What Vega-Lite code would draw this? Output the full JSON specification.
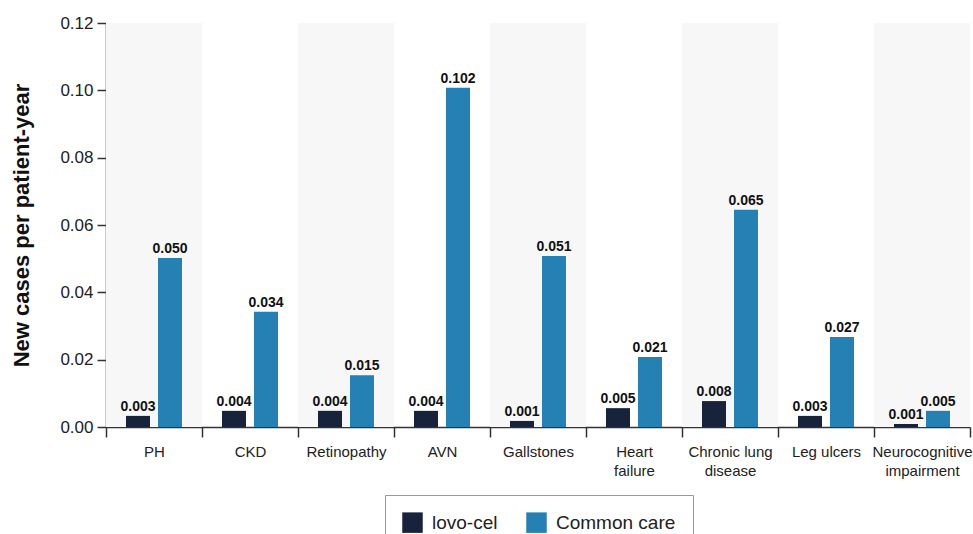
{
  "$schema": "https://vega.github.io/schema/vega-lite/v6.json",
  "width": 864,
  "height": 404,
  "autosize": {"type": "none"},
  "padding": {"left": 106, "top": 23, "right": 3, "bottom": 107},
  "background": "white",
  "config": {
    "view": {"stroke": null},
    "font": "Liberation Sans",
    "axis": {"domainColor": "#333", "tickColor": "#333", "labelColor": "#222", "titleColor": "#111", "grid": false}
  },
  "data": {
    "values": [
      {"category": "PH", "series": "lovo-cel", "value": 0.0033, "label": "0.003"},
      {"category": "PH", "series": "Common care", "value": 0.0502, "label": "0.050"},
      {"category": "CKD", "series": "lovo-cel", "value": 0.0048, "label": "0.004"},
      {"category": "CKD", "series": "Common care", "value": 0.0342, "label": "0.034"},
      {"category": "Retinopathy", "series": "lovo-cel", "value": 0.0048, "label": "0.004"},
      {"category": "Retinopathy", "series": "Common care", "value": 0.0154, "label": "0.015"},
      {"category": "AVN", "series": "lovo-cel", "value": 0.0048, "label": "0.004"},
      {"category": "AVN", "series": "Common care", "value": 0.1008, "label": "0.102"},
      {"category": "Gallstones", "series": "lovo-cel", "value": 0.0018, "label": "0.001"},
      {"category": "Gallstones", "series": "Common care", "value": 0.0508, "label": "0.051"},
      {"category": "Heart failure", "series": "lovo-cel", "value": 0.0056, "label": "0.005"},
      {"category": "Heart failure", "series": "Common care", "value": 0.0208, "label": "0.021"},
      {"category": "Chronic lung disease", "series": "lovo-cel", "value": 0.0077, "label": "0.008"},
      {"category": "Chronic lung disease", "series": "Common care", "value": 0.0645, "label": "0.065"},
      {"category": "Leg ulcers", "series": "lovo-cel", "value": 0.0033, "label": "0.003"},
      {"category": "Leg ulcers", "series": "Common care", "value": 0.0267, "label": "0.027"},
      {"category": "Neurocognitive impairment", "series": "lovo-cel", "value": 0.0009, "label": "0.001"},
      {"category": "Neurocognitive impairment", "series": "Common care", "value": 0.0048, "label": "0.005"}
    ]
  },
  "encoding": {
    "x": {
      "field": "category",
      "type": "nominal",
      "scale": {
        "domain": ["PH", "CKD", "Retinopathy", "AVN", "Gallstones", "Heart failure", "Chronic lung disease", "Leg ulcers", "Neurocognitive impairment"],
        "paddingInner": 0,
        "paddingOuter": 0
      },
      "axis": {
        "title": null,
        "labelAngle": 0,
        "labelFontSize": 15,
        "labelPadding": 7,
        "tickBand": "extent",
        "tickSize": 10,
        "domainWidth": 1.5,
        "tickWidth": 1.5,
        "labelLineHeight": 19,
        "labelExpr": "datum.value == 'Heart failure' ? ['Heart', 'failure'] : datum.value == 'Chronic lung disease' ? ['Chronic lung', 'disease'] : datum.value == 'Neurocognitive impairment' ? ['Neurocognitive', 'impairment'] : datum.value"
      }
    }
  },
  "layer": [
    {
      "transform": [
        {"filter": "datum.series == 'Common care' && indexof(['PH', 'Retinopathy', 'Gallstones', 'Chronic lung disease', 'Neurocognitive impairment'], datum.category) >= 0"}
      ],
      "mark": {"type": "bar", "color": "#f7f7f7"},
      "encoding": {
        "y": {"datum": 0.12, "type": "quantitative"},
        "y2": {"datum": 0}
      }
    },
    {
      "mark": {"type": "bar"},
      "encoding": {
        "xOffset": {
          "field": "series",
          "type": "nominal",
          "scale": {"domain": ["lovo-cel", "Common care"], "paddingInner": 0.25, "paddingOuter": 0.625}
        },
        "y": {
          "field": "value",
          "type": "quantitative",
          "scale": {"domain": [0, 0.12], "nice": false},
          "axis": {
            "title": "New cases per patient-year",
            "titleFontSize": 22,
            "titleFontWeight": "bold",
            "titlePadding": 26,
            "labelFontSize": 17,
            "format": ".2f",
            "values": [0, 0.02, 0.04, 0.06, 0.08, 0.1, 0.12],
            "tickSize": 9,
            "domainWidth": 1.5,
            "tickWidth": 1.5,
            "labelPadding": 4
          }
        },
        "color": {
          "field": "series",
          "type": "nominal",
          "scale": {"domain": ["lovo-cel", "Common care"], "range": ["#17223b", "#2580b3"]},
          "legend": {
            "title": null,
            "orient": "none",
            "direction": "horizontal",
            "legendX": 279,
            "legendY": 472,
            "strokeColor": "#999",
            "padding": 17,
            "symbolType": "square",
            "symbolSize": 420,
            "symbolStrokeWidth": 0,
            "labelFontSize": 19,
            "labelColor": "#222",
            "columnPadding": 28,
            "labelOffset": 9
          }
        }
      }
    },
    {
      "mark": {"type": "text", "dy": -9, "fontSize": 14, "fontWeight": "bold", "color": "#111"},
      "encoding": {
        "xOffset": {"field": "series", "type": "nominal", "scale": {"domain": ["lovo-cel", "Common care"], "paddingInner": 0.25, "paddingOuter": 0.625}},
        "y": {"field": "value", "type": "quantitative"},
        "text": {"field": "label"}
      }
    }
  ]
}
